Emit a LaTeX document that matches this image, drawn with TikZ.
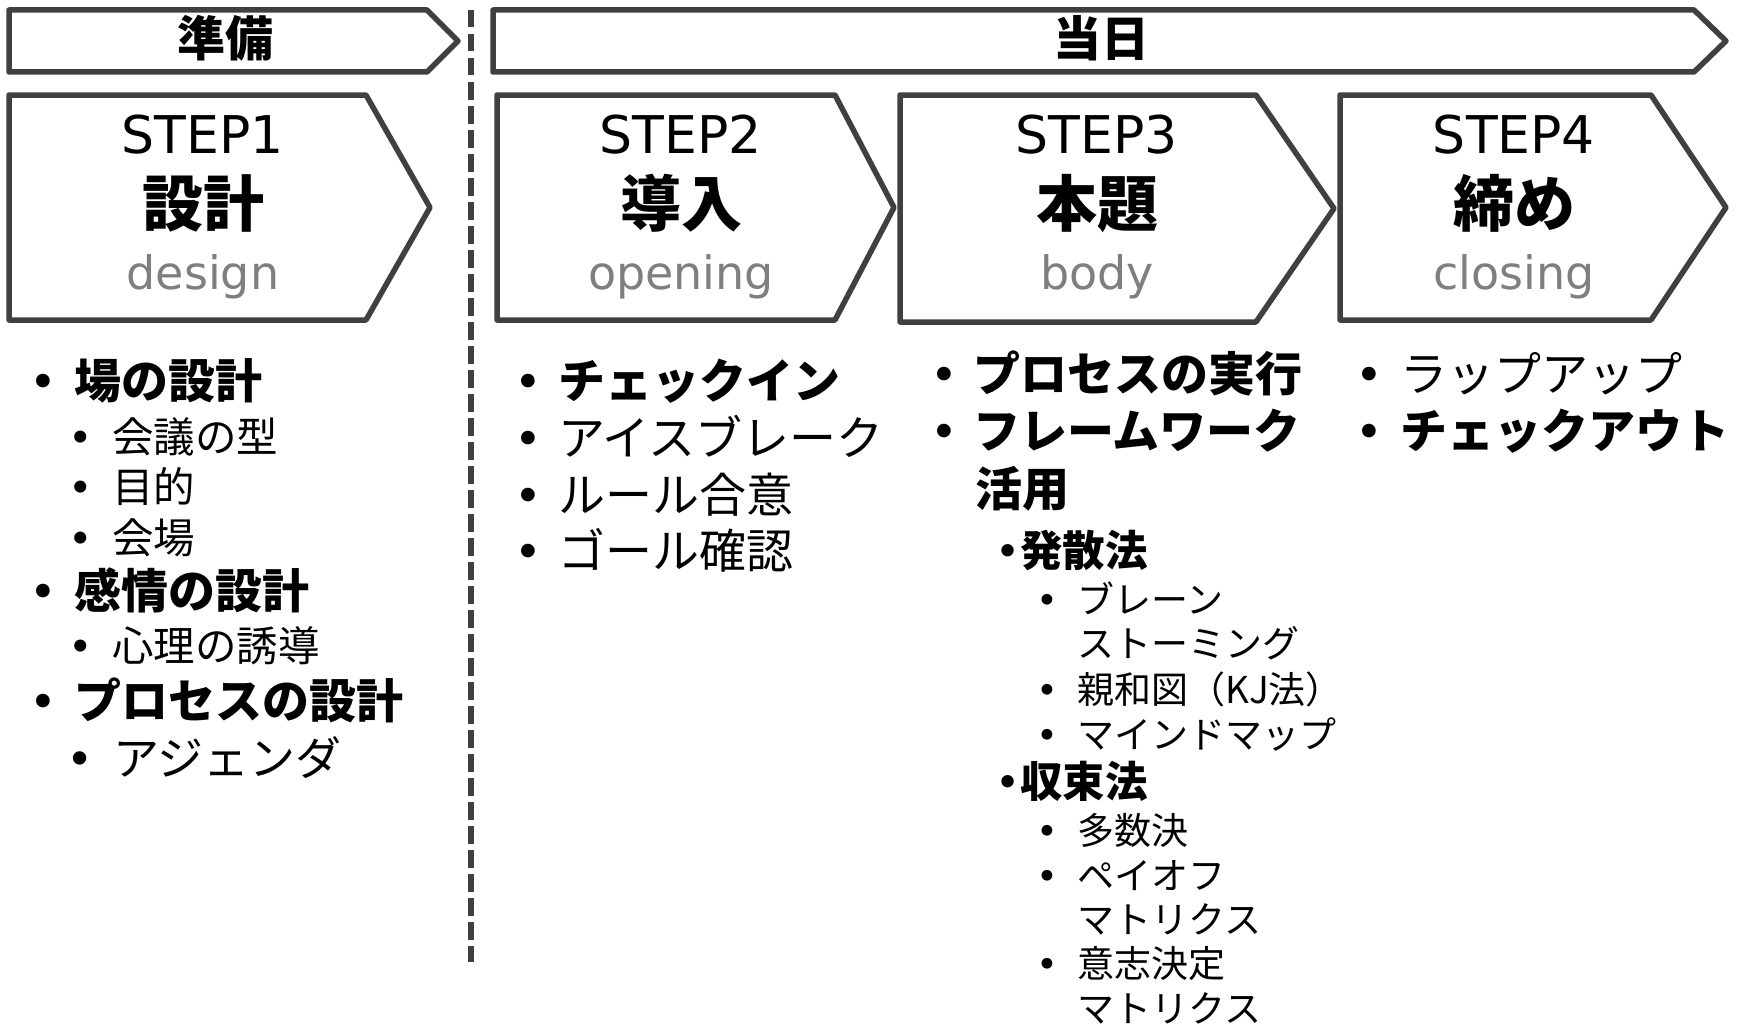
\documentclass[tikz,border=0pt]{standalone}
\usepackage{fontspec}
\newfontfamily\jp{Noto Sans CJK JP}
\newfontfamily\lat{DejaVu Sans}
\definecolor{edge}{HTML}{404040}
\definecolor{engc}{HTML}{7F7F7F}
\newcommand\fs[1]{\fontsize{#1}{#1}\selectfont}
\newcommand\bul[2]{\makebox[#1][l]{\lat\mdseries •}#2}
\tikzset{
  chev/.style={draw=edge, line width=5.5pt, line join=round, fill=white},
  divider/.style={draw=edge, line width=5.3pt, dash pattern=on 17.5pt off 6.5pt},
  txt/.style={inner sep=0pt, anchor=base},
  itm/.style={inner sep=0pt, anchor=base west},
  steptxt/.style={txt, font=\lat\fs{52}},
  titletxt/.style={txt, font=\jp\bfseries\fs{61}},
  engtxt/.style={txt, font=\lat\fs{46}, text=engc},
  mainb/.style={itm, font=\jp\bfseries\fs{47}},
  mainr/.style={itm, font=\jp\fs{47}},
  subr/.style={itm, font=\jp\fs{41.5}},
  subh/.style={itm, font=\jp\bfseries\fs{42.5}},
  subsub/.style={itm, font=\jp\fs{37}},
}
\begin{document}
\begin{tikzpicture}[x=1pt,y=-1pt]
\useasboundingbox (0,0) rectangle (1738,1025);

% phase banners
\draw[chev] (9,10) -- (427,10) -- (458,41) -- (427,72) -- (9,72) -- cycle;
\node[txt, font=\jp\bfseries\fs{48}] (prep) at (225,57) {準備};
\draw[chev] (493,10) -- (1694,10) -- (1726,41) -- (1694,72) -- (493,72) -- cycle;
\node[txt, font=\jp\bfseries\fs{48}] (day) at (1101,57) {当日};

% divider
\coordinate (dtop) at (471,10);
\coordinate (dbot) at (471,962);
\draw[divider] (dtop) -- (dbot);

% step boxes
\draw[chev] (9,95) -- (366,95) -- (430,207.5) -- (366,320) -- (9,320) -- cycle;
\node[steptxt] (s1a) at (203,153) {STEP1};
\node[titletxt] (s1b) at (203,226) {設計};
\node[engtxt] (s1c) at (203,289) {design};

\draw[chev] (497,95) -- (835,95) -- (894,207.5) -- (835,320) -- (497,320) -- cycle;
\node[steptxt] (s2a) at (681,153) {STEP2};
\node[titletxt] (s2b) at (681,226) {導入};
\node[engtxt] (s2c) at (681,289) {opening};

\draw[chev] (900,95) -- (1256,95) -- (1334,208.5) -- (1256,322) -- (900,322) -- cycle;
\node[steptxt] (s3a) at (1097,153) {STEP3};
\node[titletxt] (s3b) at (1097,226) {本題};
\node[engtxt] (s3c) at (1097,289) {body};

\draw[chev] (1340,95) -- (1651,95) -- (1726,207.5) -- (1651,320) -- (1340,320) -- cycle;
\node[steptxt] (s4a) at (1514,153) {STEP4};
\node[titletxt] (s4b) at (1514,226) {締め};
\node[engtxt] (s4c) at (1514,289) {closing};

% column 1
\node[mainb] (c1a) at (29,398) {\bul{45pt}{場の設計}};
\node[subr]  (c1b) at (68,452) {\bul{44pt}{会議の型}};
\node[subr]  (c1c) at (68,502) {\bul{44pt}{目的}};
\node[subr]  (c1d) at (68,553) {\bul{44pt}{会場}};
\node[mainb] (c1e) at (29,608) {\bul{45pt}{感情の設計}};
\node[subr]  (c1f) at (68,661) {\bul{44pt}{心理の誘導}};
\node[mainb] (c1g) at (29,718) {\bul{45pt}{プロセスの設計}};
\node[itm, font=\jp\fs{46}] (c1h) at (66,775) {\bul{47pt}{アジェンダ}};

% column 2
\node[mainb] (c2a) at (514,398) {\bul{44pt}{チェックイン}};
\node[mainr] (c2b) at (514,455) {\bul{44pt}{アイスブレーク}};
\node[mainr] (c2c) at (514,512) {\bul{44pt}{ルール合意}};
\node[mainr] (c2d) at (514,568) {\bul{44pt}{ゴール確認}};

% column 3
\node[mainb] (c3a) at (930,391) {\bul{43pt}{プロセスの実行}};
\node[mainb] (c3b) at (930,448) {\bul{43pt}{フレームワーク}};
\node[mainb] (c3c) at (975,506) {活用};
\node[subh]  (c3d) at (995.5,566) {\bul{24.5pt}{発散法}};
\node[subsub] (c3e) at (1036,613) {\bul{41pt}{ブレーン}};
\node[subsub] (c3f) at (1077,657) {ストーミング};
\node[subsub] (c3g) at (1036,703) {\bul{41pt}{親和図（KJ法）}};
\node[subsub] (c3h) at (1036,748) {\bul{41pt}{マインドマップ}};
\node[subh]  (c3i) at (995.5,797) {\bul{24.5pt}{収束法}};
\node[subsub] (c3j) at (1036,844) {\bul{41pt}{多数決}};
\node[subsub] (c3k) at (1036,889) {\bul{41pt}{ペイオフ}};
\node[subsub] (c3l) at (1077,933) {マトリクス};
\node[subsub] (c3m) at (1036,977) {\bul{41pt}{意志決定}};
\node[subsub] (c3n) at (1077,1022) {マトリクス};

% column 4
\node[mainr] (c4a) at (1355,391) {\bul{45pt}{ラップアップ}};
\node[mainb] (c4b) at (1355,448) {\bul{45pt}{チェックアウト}};
\end{tikzpicture}
\end{document}
